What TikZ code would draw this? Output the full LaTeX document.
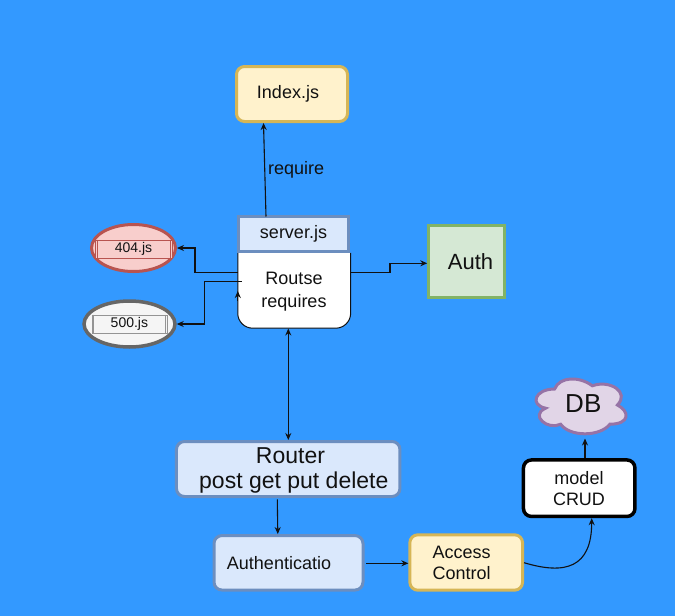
\documentclass[tikz,border=0pt]{standalone}
\usepackage{fontspec}
\setmainfont{Liberation Sans}
\usetikzlibrary{arrows.meta,shapes.geometric}
\definecolor{bg}{HTML}{3399FF}
\definecolor{yfill}{HTML}{FFF2CC}\definecolor{ydraw}{HTML}{D6B656}
\definecolor{bfill}{HTML}{DAE8FC}\definecolor{bdraw}{HTML}{6C8EBF}
\definecolor{gfill}{HTML}{D5E8D4}\definecolor{gdraw}{HTML}{82B366}
\definecolor{rfill}{HTML}{F8CECC}\definecolor{rdraw}{HTML}{B85450}
\definecolor{wfill}{HTML}{F5F5F5}\definecolor{wdraw}{HTML}{666666}
\definecolor{pfill}{HTML}{E1D5E7}\definecolor{pdraw}{HTML}{9673A6}
\definecolor{ink}{HTML}{111111}
\newcommand{\fs}[1]{\fontsize{#1}{#1}\selectfont}
\tikzset{
  box/.style={rectangle, inner sep=0pt, line width=3pt, rounded corners=8pt, text=ink},
  conn/.style={draw=ink, line width=1.1pt, -{Stealth[length=7pt,width=6pt]}},
  connb/.style={draw=ink, line width=1.1pt, {Stealth[length=7pt,width=6pt]}-{Stealth[length=7pt,width=6pt]}},
  lbl/.style={inner sep=0pt, text=ink, font=\fs{18}},
}
\begin{document}
\begin{tikzpicture}[x=1pt,y=-1pt]
\fill[bg] (0,0) rectangle (675,616);
\useasboundingbox (0,0) rectangle (675,616);

% Index.js
\node[box, fill=yfill, draw=ydraw, minimum width=111pt, minimum height=55pt, font=\fs{18}] (index) at (292,94) {\hspace*{-8pt}Index.js};

% server.js body
\node[inner sep=0pt, minimum width=112.5pt, minimum height=75pt, align=center, font=\fs{18}, text=ink] (body) at (294.2,290.5) {};
\path[fill=white, draw=ink, line width=1pt, rounded corners=15pt] (body.north west) -- (body.south west) -- (body.south east) -- (body.north east);
\node[lbl, align=center] (bodytxt) at (294,291.5) {Routse\\[5pt]requires};

% server.js header
\node[box, rounded corners=0pt, fill=bfill, draw=bdraw, line width=3.2pt, minimum width=110.5pt, minimum height=35pt, font=\fs{18}] (server) at (293.5,234) {server.js};

% require
\draw[conn] (266,216.5) -- (index.south -| 263.5,0);
\node[lbl, anchor=west] (req) at (268,170) {require};

% 404.js
\node[ellipse, draw=rdraw, fill=rfill, line width=3pt, minimum width=84pt, minimum height=47pt, inner sep=0pt] (e404) at (133.5,248) {};
\node[draw=rdraw, line width=0.8pt, fill=rfill, minimum width=77pt, minimum height=18pt, inner sep=0pt, font=\fs{14}, text=ink] (p404) at (133.5,249) {404.js};
\draw[rdraw, line width=0.8pt] ([xshift=2.3pt]p404.north west) -- ([xshift=2.3pt]p404.south west);
\draw[rdraw, line width=0.8pt] ([xshift=-2.3pt]p404.north east) -- ([xshift=-2.3pt]p404.south east);

% 500.js
\node[ellipse, draw=wdraw, fill=wfill, line width=3.5pt, minimum width=91pt, minimum height=46pt, inner sep=0pt] (e500) at (129.5,324) {};
\node[draw=wdraw!70, line width=0.8pt, fill=wfill, minimum width=75pt, minimum height=18pt, inner sep=0pt, font=\fs{14}, text=ink] (p500) at (129.4,324) {500.js};
\draw[wdraw!70, line width=0.8pt] ([xshift=2pt]p500.north west) -- ([xshift=2pt]p500.south west);
\draw[wdraw!70, line width=0.8pt] ([xshift=-2pt]p500.north east) -- ([xshift=-2pt]p500.south east);

% connectors to 404 / 500
\coordinate (s404) at (238,272.3);
\coordinate (s500) at (241.7,281.7);
\draw[conn] (s404) -- (195,272.3) -- (195,248) -- (e404.east);
\draw[conn] (s500) -- (204.5,281.7) -- (204.5,324) -- (e500.east);
\coordinate (upt) at (237.8,301);
\draw[conn] (upt) -- (237.8,291);

% Auth
\node[box, rounded corners=0pt, fill=gfill, draw=gdraw, minimum width=75.5pt, minimum height=72.5pt, font=\fs{22}] (auth) at (466.5,261.7) {\hspace*{8pt}Auth};
\coordinate (sauth) at (351,272.3);
\draw[conn] (sauth) -- (390,272.3) -- (390,263.3) -- (auth.west |- 0,263.3);

% Router
\node[box, fill=bfill, draw=bdraw, minimum width=223.5pt, minimum height=55pt, align=center, font=\fs{23}] (router) at (288.2,469) {};
\node[lbl, font=\fs{23}] (rt1) at (290.5,455.5) {Router};
\node[lbl, font=\fs{23}] (rt2) at (293.8,483) {post get put delete};
\draw[connb] (288.3,328.5) -- (288.3,440);

% Authenticatio
\node[box, fill=bfill, draw=bdraw, minimum width=149pt, minimum height=54.5pt] (authn) at (288.5,562.8) {};
\node[lbl] (authntxt) at (279,563.3) {Authenticatio};
\draw[conn] (277.3,499.3) -- (authn.north -| 277.8,0);

% Access Control
\node[box, fill=yfill, draw=ydraw, minimum width=112.7pt, minimum height=55.4pt] (acc) at (466.2,562.5) {};
\node[lbl, align=left, anchor=west] (acctxt) at (432.3,563.3) {Access\\[3pt]Control};
\draw[conn] (authn.east |- 0,563.3) ++(1.5,0) -- (acc.west |- 0,563.3);

% model CRUD
\node[box, fill=white, draw=black, line width=3.5pt, minimum width=111.5pt, minimum height=56.5pt] (model) at (579.2,488.2) {};
\node[lbl, align=center] (modeltxt) at (579,488.8) {model\\[3pt]CRUD};
\draw[conn] (acc.east |- 0,562.7) .. controls (565,575) and (591.7,568) .. (model.south -| 591.7,0);

% DB cloud
\begin{scope}[shift={(529.5,373)}]
\def\w{100.5}\def\h{64}
\draw[draw=pdraw, fill=pfill, line width=3pt]
 (0.25*\w,0.25*\h) .. controls (0.05*\w,0.25*\h) and (0,0.5*\h) .. (0.16*\w,0.55*\h)
 .. controls (0,0.66*\h) and (0.18*\w,0.9*\h) .. (0.31*\w,0.8*\h)
 .. controls (0.4*\w,1*\h) and (0.7*\w,1*\h) .. (0.8*\w,0.8*\h)
 .. controls (1*\w,0.8*\h) and (1*\w,0.6*\h) .. (0.875*\w,0.5*\h)
 .. controls (1*\w,0.3*\h) and (0.8*\w,0.1*\h) .. (0.625*\w,0.2*\h)
 .. controls (0.5*\w,0.05*\h) and (0.3*\w,0.05*\h) .. (0.25*\w,0.25*\h) -- cycle;
\end{scope}
\node[lbl, font=\fs{26}] (db) at (583.3,403.5) {DB};
\coordinate (dbb) at (585,438.5);
\draw[conn] (model.north -| 585,0) -- (dbb);
\end{tikzpicture}
\end{document}
